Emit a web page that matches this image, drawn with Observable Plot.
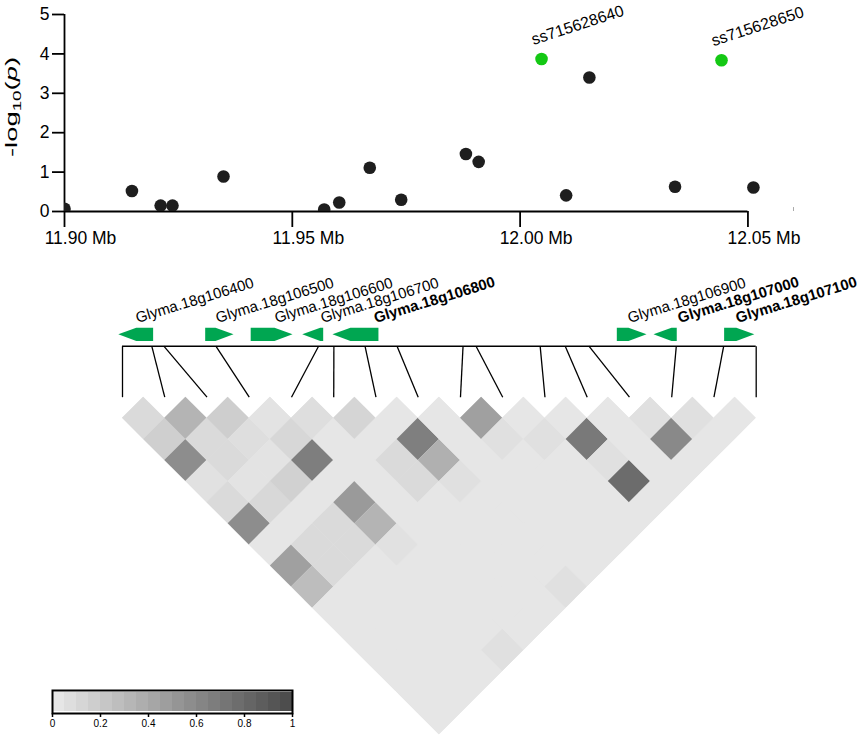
<!DOCTYPE html>
<html><head><meta charset="utf-8">
<script src="https://cdn.jsdelivr.net/npm/d3@7"></script>
<script src="https://cdn.jsdelivr.net/npm/@observablehq/plot@0.6"></script>
<style>
body{margin:0;background:#fff;}
#fig{position:relative;width:858px;height:737px;overflow:hidden;font-family:"Liberation Sans",Arial,sans-serif;}
#fig > *{position:absolute;}
</style></head><body><div id="fig"></div>
<script>
// ---------------- data ----------------
const snpPos   = [11.9000, 11.9148, 11.9211, 11.9237, 11.9349, 11.9570, 11.9603, 11.9670, 11.9739, 11.9881, 11.9909, 12.0047, 12.0101, 12.0152, 12.0340, 12.0442, 12.0512];
const snpLogP  = [0.07, 0.52, 0.15, 0.15, 0.89, 0.05, 0.23, 1.11, 0.30, 1.46, 1.26, 3.87, 0.41, 3.40, 0.63, 3.84, 0.61];
const snpLabel = ["", "", "", "", "", "", "", "", "", "", "", "ss715628640", "", "", "", "ss715628650", ""];
const xTicks = [11.90, 11.95, 12.00, 12.05];
const yTicks = [0, 1, 2, 3, 4, 5];

const geneNames  = ["Glyma.18g106400", "Glyma.18g106500", "Glyma.18g106600", "Glyma.18g106700", "Glyma.18g106800", "Glyma.18g106900", "Glyma.18g107000", "Glyma.18g107100"];
const geneStart  = [11.9140, 11.9327, 11.9425, 11.9536, 11.9601, 12.0213, 12.0292, 12.0444];
const geneEnd    = [11.9215, 11.9388, 11.9515, 11.9581, 11.9700, 12.0277, 12.0342, 12.0509];
const geneStrand = ["-", "+", "+", "-", "-", "+", "-", "+"];
const geneBold   = [false, false, false, false, true, false, true, true];

// LD (r2) between the 16 SNPs of the track; row i holds pairs (i, j) for j = i+1 .. 15
const ldR2 = [
  [0.08, 0.15, 0.58, 0.03, 0.08, 0.58, 0, 0.46, 0.27, 0, 0, 0, 0, 0, 0],
  [0.33, 0.08, 0.08, 0.02, 0.09, 0, 0.08, 0.08, 0, 0, 0, 0, 0, 0],
  [0.16, 0.05, 0.02, 0.14, 0, 0.08, 0.08, 0, 0, 0, 0, 0, 0],
  [0.02, 0.10, 0.68, 0, 0.50, 0.33, 0.03, 0, 0, 0, 0, 0.04],
  [0.05, 0, 0, 0, 0, 0, 0, 0, 0, 0, 0],
  [0.11, 0, 0.08, 0.08, 0, 0, 0, 0, 0, 0],
  [0, 0.67, 0.35, 0.04, 0, 0, 0, 0, 0.04],
  [0, 0, 0, 0, 0, 0, 0, 0],
  [0.46, 0.04, 0, 0, 0, 0, 0],
  [0, 0.04, 0, 0, 0, 0],
  [0, 0.71, 0.04, 0.80, 0],
  [0, 0, 0, 0],
  [0.04, 0.61, 0],
  [0.04, 0],
  [0]
];
const legendTicks = [0, 0.2, 0.4, 0.6, 0.8, 1];

// ---------------- style / layout ----------------
const FONT = '"Liberation Sans", Arial, sans-serif';
const GREEN = "#00a651";
const HILITE = "#14c814";
const ldColor = {type: "linear", domain: [0, 1], range: ["#e6e6e6", "#4d4d4d"]};
const fig = document.getElementById("fig");

// ---------------- panel 1: association ----------------
const snps = snpPos.map((x, i) => ({x, y: snpLogP[i], label: snpLabel[i]}));
const p1 = Plot.plot({
  width: 858, height: 255,
  marginLeft: 64, marginRight: 65, marginTop: 14, marginBottom: 44,
  style: {fontFamily: FONT, background: "transparent", color: "#000"},
  x: {domain: [11.9, 12.06]},
  y: {domain: [0, 5]},
  marks: [
    Plot.ruleX([11.9], {y1: 0, y2: 5, strokeWidth: 1.8}),
    Plot.ruleY([0], {x1: 11.9, x2: 12.05, strokeWidth: 1.8}),
    Plot.ruleX([12.06], {y1: 0, y2: 0.1, stroke: "#aaa"}),
    Plot.axisY({ticks: yTicks, tickSize: 12, tickPadding: 3, fontSize: 17.5, label: null, strokeWidth: 1.8, tickFormat: d => String(d)}),
    Plot.axisX({ticks: xTicks, tickSize: 16, label: null, strokeWidth: 1.8, tickFormat: () => ""}),
    Plot.axisX({ticks: xTicks, tickSize: 0, tickPadding: 20, fontSize: 17.5, label: null, dx: 16, tickFormat: d => d.toFixed(2) + " Mb"}),
    Plot.dot(snps.filter(d => !d.label), {x: "x", y: "y", r: 6.3, fill: "#1e1e1e", clip: true}),
    Plot.dot(snps.filter(d => d.label), {x: "x", y: "y", r: 6.3, fill: HILITE, clip: true}),
    Plot.text(snps.filter(d => d.label), {x: "x", y: "y", text: "label", rotate: -18, textAnchor: "start", lineAnchor: "bottom", dx: -8, dy: -14, fontSize: 16})
  ]
});
p1.style.left = "0px"; p1.style.top = "0px";
{
  const svg = d3.select(p1);
  const t = svg.append("text")
    .attr("transform", "translate(17,107) rotate(-90)")
    .attr("text-anchor", "middle")
    .attr("font-size", 16)
    .attr("fill", "#000")
    .attr("textLength", 100)
    .attr("lengthAdjust", "spacingAndGlyphs");
  t.append("tspan").text("-log");
  t.append("tspan").attr("font-size", 11).attr("dy", 4).text("10");
  t.append("tspan").attr("dy", -4).text("(");
  t.append("tspan").attr("font-style", "italic").text("p");
  t.append("tspan").text(")");
}
fig.appendChild(p1);

// ---------------- panel 2: genes + LD ----------------
const ldPos = snpPos.slice(1);
const n = ldPos.length;            // 16 SNPs
const p0 = ldPos[0], pN = ldPos[n - 1];
const half = (pN - p0) / (2 * (n - 1)); // half a cell, in Mb
const eqPos = d3.range(n).map(i => p0 + 2 * half * i);
const X_RANGE = [122, 755.7];
const ROW_PX = 21.1, LD_TOP = 141.7;
const pxPerMb = (X_RANGE[1] - X_RANGE[0]) / (pN - p0);
const TRACK_Y = -51 / ROW_PX, ARROW_TOP = -69 / ROW_PX, ARROW_BOT = -55.7 / ROW_PX, LABEL_Y = -74.2 / ROW_PX;
const HEAD_PX = 18;
const labelNudge = [1.2, -2.3, 4.3, 9.2, 19.7, -2.7, 14, -2.2];

const cellPts = [];
ldR2.forEach((row, i) => row.forEach((v, m) => {
  const j = i + 1 + m, k = j - i, cx = p0 + (i + j) * half, id = i + "-" + j;
  cellPts.push({id, x: cx - half, y1: k, y2: k, v},
               {id, x: cx, y1: k - 1, y2: k + 1, v},
               {id, x: cx + half, y1: k, y2: k, v});
}));
const bgPts = d3.range(2 * (n - 1) + 1).map(m => ({
  x: p0 + m * half, y1: m % 2 === 0 ? 1 : 0, y2: 1 + Math.min(m, 2 * (n - 1) - m), v: 0
}));

const arrowPts = [];
geneNames.forEach((g, k) => {
  const s = geneStart[k], e = geneEnd[k];
  const h = Math.min(HEAD_PX / pxPerMb, e - s);
  const mid = (ARROW_TOP + ARROW_BOT) / 2;
  if (geneStrand[k] === "+") {
    arrowPts.push({g, x: s, y1: ARROW_TOP, y2: ARROW_BOT}, {g, x: e - h, y1: ARROW_TOP, y2: ARROW_BOT}, {g, x: e, y1: mid, y2: mid});
  } else {
    arrowPts.push({g, x: s, y1: mid, y2: mid}, {g, x: s + h, y1: ARROW_TOP, y2: ARROW_BOT}, {g, x: e, y1: ARROW_TOP, y2: ARROW_BOT});
  }
});
const links = ldPos.map((p, i) => ({p, q: eqPos[i]}));
const genes = geneNames.map((name, k) => ({name, c: (geneStart[k] + geneEnd[k]) / 2, k}));

const p2 = Plot.plot({
  width: 858, height: 482,
  style: {fontFamily: FONT, background: "transparent", color: "#000"},
  x: {domain: [p0, pN], range: X_RANGE, axis: null},
  y: {domain: [0, n], range: [LD_TOP, LD_TOP + n * ROW_PX], axis: null},
  color: ldColor,
  marks: [
    Plot.area(bgPts, {x1: "x", y1: "y1", y2: "y2", fill: "v"}),
    Plot.area(cellPts, {x1: "x", y1: "y1", y2: "y2", z: "id", fill: "v"}),
    Plot.ruleY([TRACK_Y], {x1: p0, x2: pN, strokeWidth: 1.6}),
    Plot.link(links, {x1: "p", y1: () => TRACK_Y, x2: "q", y2: () => 0, strokeWidth: 1.3}),
    Plot.area(arrowPts, {x1: "x", y1: "y1", y2: "y2", z: "g", fill: GREEN}),
    ...genes.map(g => Plot.text([g], {
      x: "c", y: () => LABEL_Y, text: "name",
      rotate: -17, textAnchor: "start", lineAnchor: "bottom", dx: labelNudge[g.k],
      fontSize: 15, fontWeight: geneBold[g.k] ? "bold" : "normal"
    }))
  ]
});
p2.style.left = "0px"; p2.style.top = "255px";
fig.appendChild(p2);

// ---------------- legend ----------------
const bins = d3.range(20).map(k => ({x1: k / 20, x2: (k + 1) / 20, v: k / 19}));
const p3 = Plot.plot({
  width: 260, height: 50,
  marginLeft: 12, marginRight: 8, marginTop: 10, marginBottom: 17,
  style: {fontFamily: FONT, background: "transparent", color: "#000"},
  x: {domain: [0, 1]},
  y: {domain: [0, 1], axis: null},
  color: ldColor,
  marks: [
    Plot.rect(bins, {x1: "x1", x2: "x2", y1: 0, y2: 1, fill: "v", insetTop: 2, insetBottom: 2}),
    Plot.frame({strokeWidth: 2}),
    Plot.axisX({ticks: legendTicks, tickSize: 4, tickPadding: 2, fontSize: 10, label: null, strokeWidth: 1.5,
      tickFormat: d => (d === 0 || d === 1) ? String(d) : d.toFixed(1)})
  ]
});
p3.style.left = "40px"; p3.style.top = "680px";
fig.appendChild(p3);
</script></body></html>
